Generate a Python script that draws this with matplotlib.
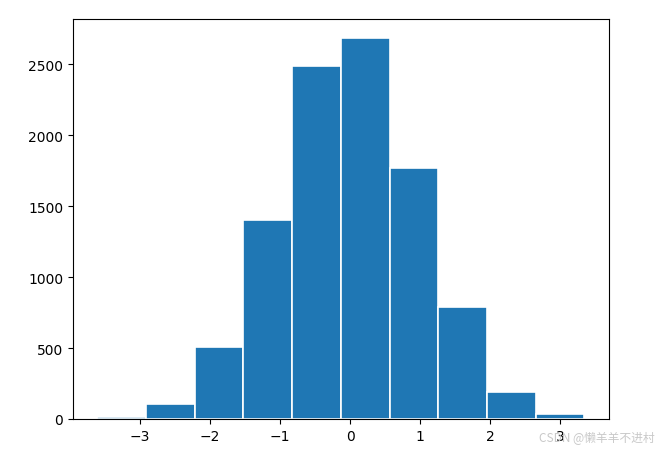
import matplotlib.pyplot as plt
import numpy as np

# Histogram bin edges and counts
bin_edges = [-3.61, -2.915, -2.22, -1.525, -0.83, -0.135, 0.56, 1.255, 1.95, 2.645, 3.34]
counts = [13, 106, 508, 1404, 2484, 2684, 1772, 790, 193, 36]

centers = [(a + b) / 2 for a, b in zip(bin_edges[:-1], bin_edges[1:])]

fig = plt.figure(figsize=(6.69, 4.56), dpi=100)
ax = fig.add_subplot(111)
fig.subplots_adjust(left=0.109, right=0.910, top=0.956, bottom=0.079)

ax.hist(centers, bins=bin_edges, weights=counts, color='#1f77b4',
        edgecolor='white', linewidth=1.2)

ax.set_xticks([-3, -2, -1, 0, 1, 2, 3])
ax.set_xticklabels(['\u22123', '\u22122', '\u22121', '0', '1', '2', '3'])
ax.set_xlim(-3.96, 3.69)
ax.set_ylim(0, 2818)

# watermark
fig.text(0.806, 0.032, 'CSDN @懒羊羊不进村', fontsize=8.5, color='#c8c8c8',
         family=['Noto Sans CJK SC', 'DejaVu Sans'])

fig.savefig('out.png', dpi=100)
